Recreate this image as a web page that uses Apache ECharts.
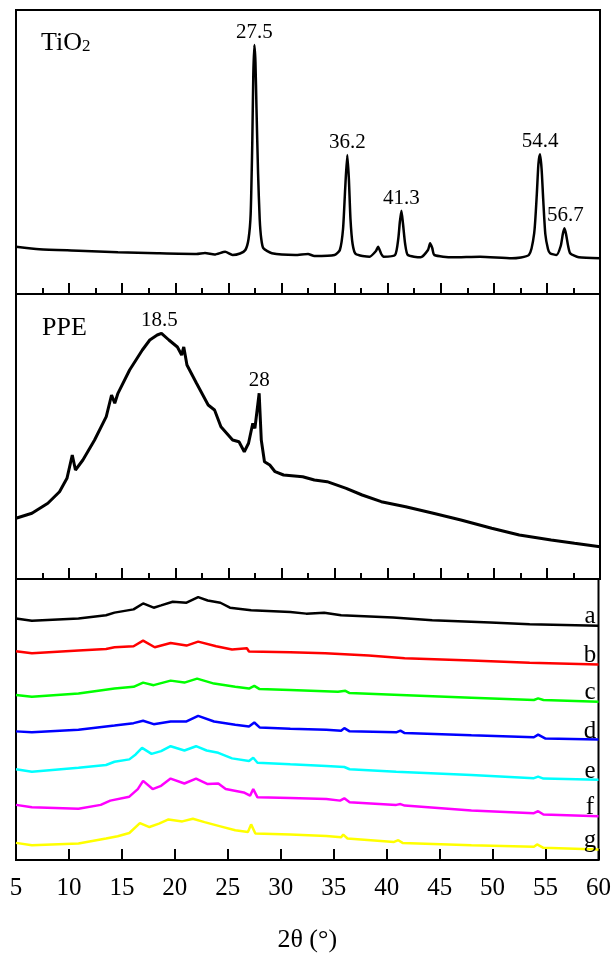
<!DOCTYPE html>
<html>
<head>
<meta charset="utf-8">
<script src="https://cdn.jsdelivr.net/npm/echarts@6/dist/echarts.min.js"></script>
<style>
html, body { margin: 0; padding: 0; background: #fff; }
#chart { width: 614px; height: 954px; }
</style>
</head>
<body>
<div id="chart"></div>
<script>
// 2θ / intensity pairs (intensity in arbitrary units)
var tio2 = [[5.0,47.3],[7.2,44.7],[10.9,43.3],[14.6,41.7],[18.3,40.7],[22.0,40],[22.8,41],[23.7,39.5],[24.7,42.3],[25.4,39],[26.1,40.5],[26.6,44],[26.9,55],[27.1,80],[27.25,150],[27.35,220],[27.45,249],[27.55,232],[27.65,185],[27.8,120],[27.95,75],[28.1,55],[28.3,45.7],[29.1,40.7],[31.3,39],[32.5,40],[33.1,38],[35.0,39],[35.5,44],[35.8,65],[36.0,105],[36.2,139],[36.35,115],[36.5,75],[36.7,50],[37.0,40],[38.3,37.3],[38.9,43],[39.1,47.3],[39.4,40],[39.6,37.3],[40.7,39],[41.0,55],[41.15,72],[41.3,83.3],[41.45,70],[41.65,50],[41.9,39],[43.1,36.7],[43.8,44],[44.0,50.7],[44.2,46],[44.4,39],[46.1,36.7],[48.7,37.3],[51.7,35.7],[53.3,39],[53.8,60.7],[54.05,100],[54.2,130],[54.35,139.7],[54.5,125],[54.65,95],[54.85,60],[55.1,45],[55.3,40.7],[55.9,39],[56.3,48],[56.5,60],[56.65,65.7],[56.8,60],[57.0,48],[57.2,40.7],[58.0,36.7],[60,35.7]];
var ppe = [[5.0,60.7],[6.5,65.7],[8.0,75.7],[9.1,87.3],[9.8,100.7],[10.3,124],[10.6,109],[11.3,119],[12.4,139],[13.5,162.3],[14.0,184],[14.3,175.7],[14.6,185.7],[15.7,209],[16.9,229],[17.6,239],[18.3,244],[18.7,245.7],[19.4,239],[20.2,232],[20.6,224],[20.8,232],[21.1,214],[22.0,195.7],[23.1,174],[23.7,169],[24.3,152.3],[25.4,139],[26.0,137.3],[26.5,127.3],[26.9,135.7],[27.3,155.7],[27.5,150.7],[27.9,185.7],[28.1,139],[28.4,117.3],[28.9,114],[29.4,107.3],[30.2,104],[32.0,102.3],[33.1,99],[34.3,97.3],[36.1,90.7],[37.6,84],[39.4,77.3],[41.7,72.3],[44.3,65.7],[46.9,59],[49.8,50.7],[52.4,44],[55.4,39],[57.6,35.7],[60,32.3]];
var sampleA = [[5.0,244],[6.5,241.7],[10.9,244],[13.5,247.3],[14.3,250],[16.1,253.3],[17.0,259.3],[18.0,255],[18.7,257.3],[19.8,261],[21.1,260],[22.2,265.7],[23.1,262.3],[24.3,260],[25.2,255],[27.2,252.3],[30.9,250.7],[32.4,249],[34.1,250],[35.7,247.3],[40.6,245],[44.3,242.3],[49.8,240],[53.5,238.3],[60,236.7]];
var sampleB = [[5.0,211],[6.5,209],[10.9,211.7],[13.5,213.3],[14.3,215],[16.1,216],[17.0,221.7],[18.1,215],[19.6,219.3],[21.1,216.7],[22.2,220.7],[23.9,216],[25.4,212.7],[26.8,214],[27.0,210.7],[30.9,210],[34.2,209],[38.3,206.7],[41.7,204],[48.0,201.7],[53.5,199.3],[60,197.7]];
var sampleC = [[5.0,166.7],[6.5,165],[10.9,168.3],[14.3,173.3],[16.1,175],[17.0,179.3],[18.0,176.7],[19.6,181.3],[20.9,179.3],[22.1,183.3],[23.7,178.3],[25.7,175],[27.0,173.3],[27.5,176],[28.0,172.7],[30.9,171.7],[35.4,170],[36.1,171],[36.5,168.7],[41.3,166.7],[48.0,164],[53.9,161.7],[54.3,163.3],[54.8,161.7],[60,160]];
var sampleD = [[5.0,130],[6.5,129],[10.9,131.7],[14.3,136],[16.1,138.3],[17.0,140.7],[18.0,137.3],[19.6,140],[21.1,140],[22.2,145.7],[23.7,140],[25.7,136.7],[27.0,135],[27.5,139],[28.0,134],[30.9,132.7],[34.3,131.7],[35.7,130.7],[36.0,133.3],[36.5,130],[40.9,129],[41.3,130.7],[41.7,128.3],[48.0,126],[53.9,124],[54.3,126.7],[55.0,122.7],[60,121.7]];
var sampleE = [[5.0,91.7],[6.5,89.3],[10.9,93.3],[13.5,96],[14.3,99.3],[15.7,101.7],[16.3,106.7],[16.9,113.3],[17.8,107.3],[18.7,110],[19.6,115],[20.9,110.7],[22.0,115],[23.0,110.7],[24.1,108.3],[25.4,102.7],[27.0,100],[27.4,103.3],[27.8,98.3],[30.9,96.7],[34.3,95],[36.0,94],[36.5,91.7],[40.9,89.3],[48.0,86],[53.9,82.7],[54.3,84.3],[54.8,82.3],[60,81]];
var sampleF = [[5.0,55.7],[6.5,53.3],[10.9,51.7],[13.0,55.7],[13.9,60],[15.7,64],[16.5,71.7],[17.0,80],[17.9,71.7],[18.7,75],[19.6,82.3],[20.9,77.3],[22.0,82.3],[23.1,76.7],[24.1,77.3],[24.8,71.7],[26.5,68.3],[27.1,65],[27.4,71.7],[27.8,63.3],[30.9,62.7],[34.3,61.7],[35.6,60],[36.0,62.3],[36.5,58.3],[40.9,55.7],[41.3,56.5],[41.7,55],[48.0,50],[53.9,47.3],[54.3,49.3],[54.8,46],[60,44.3]];
var sampleG = [[5.0,17.3],[6.5,15],[10.9,16.7],[13.5,21.7],[14.6,24],[15.7,27.3],[16.7,37.3],[17.6,33.3],[18.5,36.7],[19.4,41],[20.7,39],[21.7,41.7],[22.8,38.3],[24.3,34],[25.7,30],[26.9,28.3],[27.2,36],[27.6,26.7],[30.9,25.7],[34.3,24.3],[35.7,23],[35.9,25.7],[36.3,21.7],[40.7,18.3],[41.1,20],[41.5,17.3],[48.0,15],[53.9,13.3],[54.2,15.7],[54.8,12.3],[60,10.7]];

var tio2Peaks = [[27.45,249,'27.5'],[36.2,139,'36.2'],[41.3,83.3,'41.3'],[54.35,139.7,'54.4'],[56.75,65.7,'56.7']];
var ppePeaks = [[18.5,245.7,'18.5'],[27.9,185.7,'28']];
var sampleNames = ['a','b','c','d','e','f','g'];
var sampleColors = ['#000000','#ff0000','#00ff00','#0000ff','#00ffff','#ff00ff','#ffff00'];
var samples = [sampleA, sampleB, sampleC, sampleD, sampleE, sampleF, sampleG];

var font = 'Liberation Serif';
var chart = echarts.init(document.getElementById('chart'));

function xAxisFor(idx, labels) {
	return {
		type: 'value',
		gridIndex: idx,
		min: 5,
		max: 60,
		interval: 5,
		axisLine: { lineStyle: { color: '#000', width: 2 } },
		axisTick: { inside: true, length: 11, lineStyle: { color: '#000', width: 2 } },
		minorTick: { show: !labels, splitNumber: 2, length: 6, lineStyle: { color: '#000', width: 2 } },
		splitLine: { show: false },
		axisLabel: { show: labels, color: '#000', fontFamily: font, fontSize: 25, margin: 16 },
		name: labels ? '2θ (°)' : '',
		nameLocation: 'middle',
		nameGap: 67,
		nameTextStyle: { color: '#000', fontFamily: font, fontSize: 26 }
	};
}
function yAxisFor(idx, max) {
	return { type: 'value', gridIndex: idx, min: 0, max: max, show: false };
}
function peakMarks(list) {
	return {
		symbol: 'circle',
		symbolSize: 0,
		label: {
			show: true, position: 'top', distance: 2, color: '#000',
			fontFamily: font, fontSize: 21,
			formatter: function (p) { return p.name; }
		},
		data: list.map(function (p) { return { name: p[2], coord: [p[0], p[1]] }; })
	};
}

var series = [
	{ type: 'line', xAxisIndex: 0, yAxisIndex: 0, data: tio2, showSymbol: false, smooth: 0.2,
	  lineStyle: { color: '#000', width: 2.5 }, markPoint: peakMarks(tio2Peaks), silent: true },
	{ type: 'line', xAxisIndex: 1, yAxisIndex: 1, data: ppe, showSymbol: false,
	  lineStyle: { color: '#000', width: 3 }, markPoint: peakMarks(ppePeaks), silent: true }
];
samples.forEach(function (d, i) {
	var last = d[d.length - 2];
	series.push({
		type: 'line', xAxisIndex: 2, yAxisIndex: 2, data: d, showSymbol: false, silent: true,
		lineStyle: { color: sampleColors[i], width: 2.5 },
		markPoint: {
			symbol: 'circle', symbolSize: 0,
			label: { show: true, position: 'top', distance: -5, color: '#000', fontFamily: font, fontSize: 25,
				formatter: sampleNames[i] },
			data: [{ coord: [59.2, last[1]] }]
		}
	});
});

var option = {
	animation: false,
	backgroundColor: '#fff',
	grid: [
		{ left: 16, right: 14, top: 10, height: 284, show: true, borderColor: '#000', borderWidth: 2 },
		{ left: 16, right: 14, top: 294, height: 285, show: true, borderColor: '#000', borderWidth: 2 },
		{ left: 16, right: 14, top: 579, height: 284, show: true, borderColor: '#000', borderWidth: 2 }
	],
	xAxis: [xAxisFor(0, false), xAxisFor(1, false), xAxisFor(2, true)],
	yAxis: [yAxisFor(0, 284), yAxisFor(1, 285), yAxisFor(2, 284)],
	graphic: [
		{ type: 'text', left: 41, top: 30, style: {
			text: '{m|TiO}{s|2}',
			rich: {
				m: { fontFamily: font, fontSize: 26, fill: '#000' },
				s: { fontFamily: font, fontSize: 17, fill: '#000', padding: [8, 0, 0, 0] }
			}
		} },
		{ type: 'text', left: 42, top: 315, style: { text: 'PPE', fontFamily: font, fontSize: 26, fill: '#000' } }
	],
	series: series
};
chart.setOption(option);
</script>
</body>
</html>
